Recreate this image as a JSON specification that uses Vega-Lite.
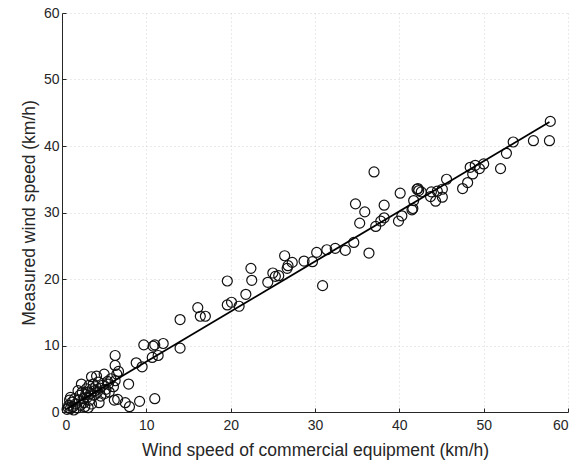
{
  "$schema": "https://vega.github.io/schema/vega-lite/v6.json",
  "autosize": "none",
  "width": 506,
  "height": 399,
  "padding": {"left": 62, "top": 13, "right": 16, "bottom": 54},
  "background": "white",
  "config": {
    "font": "Liberation Sans",
    "view": {"stroke": null},
    "axis": {
      "domainColor": "#262626",
      "domainWidth": 1,
      "tickColor": "#262626",
      "tickSize": -4,
      "labelColor": "#262626",
      "labelFontSize": 14,
      "titleColor": "#262626",
      "titleFontSize": 17.5,
      "titleFontWeight": "normal",
      "gridColor": "#d4d4d4",
      "gridDash": [1, 3],
      "gridWidth": 1
    }
  },
  "datasets": {
    "pts": [
      {"x": 57.9, "y": 43.7}, {"x": 57.8, "y": 40.8}, {"x": 55.9, "y": 40.8}, {"x": 53.5, "y": 40.6},
      {"x": 52.7, "y": 38.9}, {"x": 52.0, "y": 36.6}, {"x": 50.0, "y": 37.3}, {"x": 49.5, "y": 36.6},
      {"x": 49.0, "y": 37.1}, {"x": 48.4, "y": 36.8}, {"x": 48.7, "y": 35.8}, {"x": 48.1, "y": 34.5},
      {"x": 47.5, "y": 33.6}, {"x": 45.6, "y": 35.0}, {"x": 45.1, "y": 33.5}, {"x": 45.1, "y": 32.3},
      {"x": 44.5, "y": 33.2}, {"x": 44.3, "y": 31.7}, {"x": 43.8, "y": 33.1}, {"x": 43.7, "y": 32.4},
      {"x": 42.2, "y": 33.6}, {"x": 42.1, "y": 33.5}, {"x": 42.3, "y": 33.3}, {"x": 42.6, "y": 33.1},
      {"x": 41.7, "y": 31.8}, {"x": 41.6, "y": 30.6}, {"x": 41.5, "y": 30.4}, {"x": 40.1, "y": 32.9},
      {"x": 40.3, "y": 29.5}, {"x": 39.9, "y": 28.7}, {"x": 38.2, "y": 31.1}, {"x": 38.2, "y": 29.2},
      {"x": 37.8, "y": 28.7}, {"x": 37.2, "y": 27.9}, {"x": 37.0, "y": 36.1}, {"x": 35.9, "y": 30.1},
      {"x": 34.8, "y": 31.3}, {"x": 35.3, "y": 28.4}, {"x": 34.6, "y": 25.5}, {"x": 36.4, "y": 23.9},
      {"x": 33.6, "y": 24.3}, {"x": 32.4, "y": 24.6}, {"x": 31.4, "y": 24.4}, {"x": 30.2, "y": 24.0},
      {"x": 29.7, "y": 22.6}, {"x": 30.9, "y": 19.0}, {"x": 28.7, "y": 22.7}, {"x": 27.3, "y": 22.5},
      {"x": 26.8, "y": 22.0}, {"x": 26.7, "y": 21.6}, {"x": 26.4, "y": 23.5}, {"x": 25.7, "y": 20.5},
      {"x": 25.3, "y": 20.4}, {"x": 25.0, "y": 20.9}, {"x": 24.4, "y": 19.5}, {"x": 22.5, "y": 19.8},
      {"x": 22.4, "y": 21.6}, {"x": 21.8, "y": 17.7}, {"x": 21.0, "y": 15.9}, {"x": 20.1, "y": 16.5},
      {"x": 19.6, "y": 16.1}, {"x": 19.6, "y": 19.7}, {"x": 17.0, "y": 14.4}, {"x": 16.4, "y": 14.4},
      {"x": 16.1, "y": 15.7}, {"x": 14.0, "y": 13.9}, {"x": 14.0, "y": 9.6}, {"x": 12.0, "y": 10.3},
      {"x": 11.0, "y": 10.1}, {"x": 10.8, "y": 9.9}, {"x": 9.7, "y": 10.1}, {"x": 11.4, "y": 8.5},
      {"x": 10.7, "y": 8.2}, {"x": 11.0, "y": 2.0}, {"x": 9.2, "y": 1.6}, {"x": 9.5, "y": 6.8},
      {"x": 8.8, "y": 7.4}, {"x": 7.9, "y": 4.2}, {"x": 8.0, "y": 0.8}, {"x": 7.5, "y": 1.4},
      {"x": 6.6, "y": 1.9}, {"x": 6.2, "y": 1.8}, {"x": 6.3, "y": 8.5}, {"x": 6.3, "y": 7.0},
      {"x": 6.7, "y": 6.1}, {"x": 6.5, "y": 5.7}, {"x": 6.3, "y": 4.7}, {"x": 6.1, "y": 3.8},
      {"x": 5.0, "y": 5.7}, {"x": 5.5, "y": 4.2}, {"x": 4.4, "y": 1.4}, {"x": 5.1, "y": 2.8},
      {"x": 3.5, "y": 5.3}, {"x": 1.9, "y": 3.2}, {"x": 1.0, "y": 2.2}, {"x": 0.75, "y": 0.65},
      {"x": 3.1, "y": 0.65}, {"x": 0.6, "y": 0.4}, {"x": 0.8, "y": 1.0}, {"x": 1.0, "y": 0.5},
      {"x": 1.2, "y": 1.5}, {"x": 1.3, "y": 0.8}, {"x": 1.5, "y": 2.0}, {"x": 1.6, "y": 1.2},
      {"x": 1.8, "y": 0.6}, {"x": 2.0, "y": 1.8}, {"x": 2.1, "y": 2.5}, {"x": 2.2, "y": 1.0},
      {"x": 2.4, "y": 3.0}, {"x": 2.5, "y": 2.0}, {"x": 2.6, "y": 1.4}, {"x": 2.8, "y": 2.6},
      {"x": 2.9, "y": 3.5}, {"x": 3.0, "y": 2.2}, {"x": 3.1, "y": 3.0}, {"x": 3.2, "y": 4.0},
      {"x": 3.3, "y": 1.8}, {"x": 3.4, "y": 2.8}, {"x": 3.6, "y": 3.5}, {"x": 3.7, "y": 4.2},
      {"x": 3.8, "y": 2.5}, {"x": 3.9, "y": 3.2}, {"x": 4.0, "y": 3.8}, {"x": 4.2, "y": 3.0},
      {"x": 4.3, "y": 4.5}, {"x": 4.5, "y": 3.6}, {"x": 4.6, "y": 2.4}, {"x": 4.8, "y": 4.0},
      {"x": 5.2, "y": 3.4}, {"x": 5.4, "y": 4.6}, {"x": 5.6, "y": 3.0}, {"x": 5.8, "y": 5.0},
      {"x": 2.7, "y": 0.8}, {"x": 1.4, "y": 0.3}, {"x": 3.5, "y": 1.2}, {"x": 0.9, "y": 1.8},
      {"x": 2.3, "y": 4.2}, {"x": 4.1, "y": 5.4}
    ],
    "fit": [
      {"x": 0.5, "y": 0.4},
      {"x": 57.8, "y": 43.6}
    ]
  },
  "layer": [
    {
      "data": {"name": "pts"},
      "mark": {"type": "point", "shape": "circle", "filled": false, "size": 100, "stroke": "#111111", "strokeWidth": 1.2, "opacity": 1},
      "encoding": {
        "x": {
          "field": "x", "type": "quantitative",
          "scale": {"domain": [0, 60], "nice": false, "zero": false},
          "axis": {"values": [0, 10, 20, 30, 40, 50, 60], "title": "Wind speed of commercial equipment (km/h)", "labelPadding": 10, "titlePadding": 9}
        },
        "y": {
          "field": "y", "type": "quantitative",
          "scale": {"domain": [0, 60], "nice": false, "zero": false},
          "axis": {"values": [0, 10, 20, 30, 40, 50, 60], "title": "Measured wind speed (km/h)", "labelPadding": 7, "titlePadding": 5}
        }
      }
    },
    {
      "data": {"name": "fit"},
      "mark": {"type": "line", "color": "#000000", "strokeWidth": 1.8},
      "encoding": {
        "x": {"field": "x", "type": "quantitative"},
        "y": {"field": "y", "type": "quantitative"}
      }
    }
  ]
}
